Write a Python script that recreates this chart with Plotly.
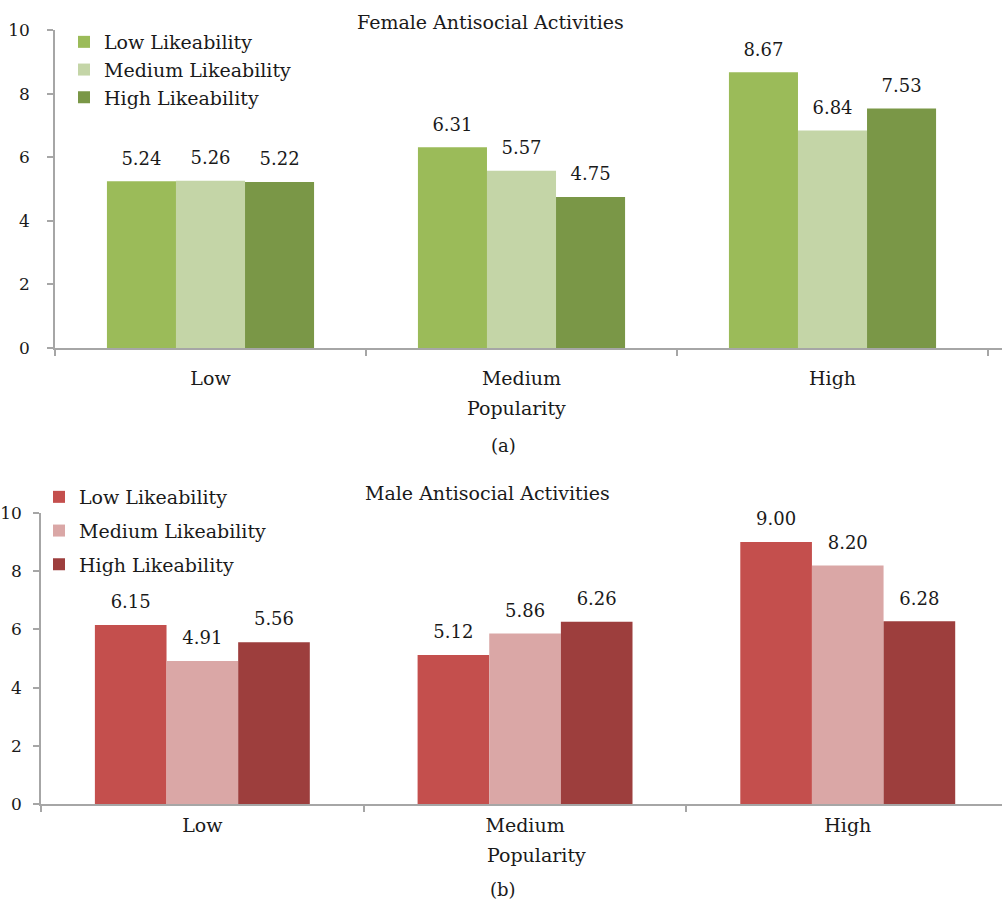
import plotly.graph_objects as go

categories = ["Low", "Medium", "High"]
series_names = ["Low Likeability", "Medium Likeability", "High Likeability"]

female_low = [5.24, 6.31, 8.67]
female_medium = [5.26, 5.57, 6.84]
female_high = [5.22, 4.75, 7.53]

male_low = [6.15, 5.12, 9.00]
male_medium = [4.91, 5.86, 8.20]
male_high = [5.56, 6.26, 6.28]

y_ticks = [0, 2, 4, 6, 8, 10]

green = ["#9BBB59", "#C4D5A7", "#7A9747"]
red = ["#C44F4D", "#DAA7A6", "#9D3E3D"]

FONT = "DejaVu Serif"
TXT = "#1a1a1a"
AX = "#A6A6A6"

fig = go.Figure()

female = [female_low, female_medium, female_high]
male = [male_low, male_medium, male_high]

for i, (name, vals) in enumerate(zip(series_names, female)):
    fig.add_trace(go.Bar(
        x=categories, y=vals, name=name, marker=dict(color=green[i], line=dict(width=0)),
        xaxis="x", yaxis="y", legend="legend", legendgroup="f" + str(i), offsetgroup=str(i),
    ))
for i, (name, vals) in enumerate(zip(series_names, male)):
    fig.add_trace(go.Bar(
        x=categories, y=vals, name=name, marker=dict(color=red[i], line=dict(width=0)),
        xaxis="x2", yaxis="y2", legend="legend2", legendgroup="m" + str(i), offsetgroup=str(i),
    ))

# value labels
for i, vals in enumerate(female):
    fig.add_trace(go.Scatter(
        x=categories, y=vals, mode="markers+text", text=[f"{v:.2f}" for v in vals],
        textposition="top center", textfont=dict(family=FONT, size=18, color=TXT),
        marker=dict(size=18, opacity=0), xaxis="x", yaxis="y", showlegend=False,
        hoverinfo="skip", cliponaxis=False, offsetgroup=str(i),
    ))
for i, vals in enumerate(male):
    fig.add_trace(go.Scatter(
        x=categories, y=vals, mode="markers+text", text=[f"{v:.2f}" for v in vals],
        textposition="top center", textfont=dict(family=FONT, size=18, color=TXT),
        marker=dict(size=18, opacity=0), xaxis="x2", yaxis="y2", showlegend=False,
        hoverinfo="skip", cliponaxis=False, offsetgroup=str(i),
    ))

W, H = 1002, 904

def px(x):
    return x / W

def py(y):
    return 1 - y / H

common_x = dict(type="category", showline=True, linecolor=AX, linewidth=1.5,
                ticks="outside", tickson="boundaries", ticklen=6, tickcolor=AX, tickwidth=1.5,
                showgrid=False, zeroline=False,
                tickfont=dict(family=FONT, size=19, color=TXT))
common_y = dict(range=[0, 10], tickvals=y_ticks, showline=True, linecolor=AX, linewidth=1.5,
                ticks="outside", ticklen=6, tickcolor=AX, tickwidth=1.5,
                showgrid=False, zeroline=False,
                tickfont=dict(family=FONT, size=17, color=TXT))

fig.update_layout(
    width=W, height=H,
    margin=dict(l=0, r=0, t=0, b=0, autoexpand=False),
    paper_bgcolor="white", plot_bgcolor="white",
    barmode="group", bargap=0.334, bargroupgap=0,
    scattermode="group", scattergap=0.334,
    font=dict(family=FONT, color=TXT),
    xaxis=dict(domain=[px(55), 1], range=[-0.5, 2.545], anchor="y",
               ticklabelstandoff=12, **common_x),
    yaxis=dict(domain=[py(348), py(30)], anchor="x", ticklabelstandoff=14, **common_y),
    xaxis2=dict(domain=[px(41), 1], range=[-0.5, 2.478], anchor="y2",
                ticklabelstandoff=3, **common_x),
    yaxis2=dict(domain=[py(804), py(513)], anchor="x2", ticklabelstandoff=8, **common_y),
    legend=dict(x=px(64), y=py(23), xanchor="left", yanchor="top",
                bgcolor="rgba(0,0,0,0)", font=dict(family=FONT, size=19, color=TXT),
                itemwidth=30, tracegroupgap=0),
    legend2=dict(x=px(39), y=py(478), xanchor="left", yanchor="top",
                 bgcolor="rgba(0,0,0,0)", font=dict(family=FONT, size=19, color=TXT),
                 itemwidth=30, tracegroupgap=6),
    showlegend=True,
)

annos = [
    ("Female Antisocial Activities", 490, 22, 19),
    ("Popularity", 516, 408, 19),
    ("(a)", 503, 445, 18),
    ("Male Antisocial Activities", 487, 493, 19),
    ("Popularity", 536, 855, 19),
    ("(b)", 503, 889, 18),
]
for text, x, y, s in annos:
    fig.add_annotation(text=text, x=px(x), y=py(y), xref="paper", yref="paper",
                       xanchor="center", yanchor="middle", showarrow=False,
                       font=dict(family=FONT, size=s, color=TXT))

fig.write_html("out.html")
